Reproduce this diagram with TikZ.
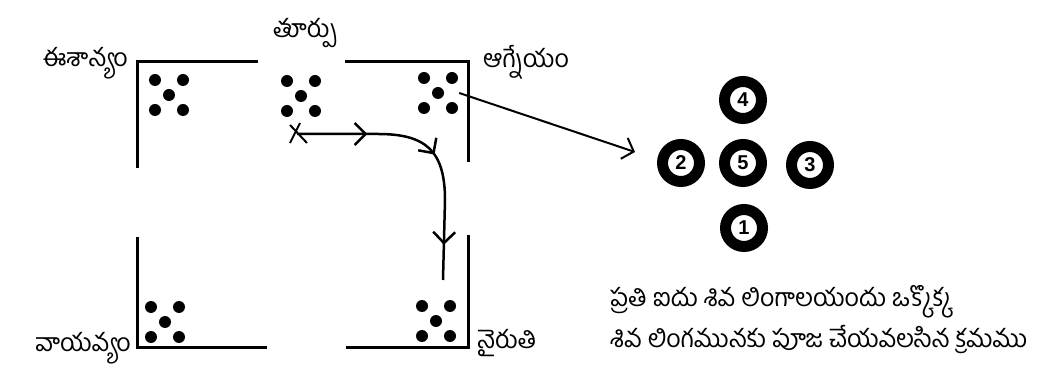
\documentclass[tikz,border=0pt]{standalone}
\usepackage{fontspec}
\setmainfont{Liberation Sans}
\newfontfamily\telugu[Script=Telugu]{Hind Guntur}
\usetikzlibrary{arrows.meta,decorations.markings,calc}
\tikzset{
  wall/.style={line width=3pt},
  spot/.style={circle, fill=black, inner sep=0pt, minimum size=12pt},
  linga/.style={circle, draw, line width=11pt, minimum size=37pt, inner sep=0pt,
    font=\bfseries\fontsize{20}{20}\selectfont},
  dir/.style={inner sep=0pt, font=\telugu\fontsize{25}{28}\selectfont},
  barb/.tip={Straight Barb[length=11pt,width=22pt]}
}
\newcommand{\fivespots}[2]{%
  \node[minimum size=42pt, inner sep=0pt] (#1) at (#2) {};
  \foreach \dx/\dy [count=\i] in {-14/-15,14/-15,0/0,-14/15,14/15}
    \node[spot] (#1\i) at ($(#1)+(\dx,\dy)$) {};
}
\begin{document}
\begin{tikzpicture}[x=1pt,y=-1pt]
  \useasboundingbox (0,0) rectangle (1045,371);
  \draw[wall] (258,62) -- (137,62) -- (137,168);
  \draw[wall] (345,62) -- (468,62) -- (468,162);
  \draw[wall] (137,237) -- (137,348) -- (267,348);
  \draw[wall] (346,348) -- (468,348) -- (468,235);

  \fivespots{nw}{169,95}
  \fivespots{n}{301,96}
  \fivespots{ne}{438,93}
  \fivespots{sw}{165,322}
  \fivespots{se}{436,321}

  \node[dir, anchor=base east] (nwname) at (128,67) {ఈశాన్యం};
  \node[dir, anchor=base] (nname) at (305,38) {తూర్పు};
  \node[dir, anchor=base west] (nename) at (483,68) {ఆగ్నేయం};
  \node[dir, anchor=base east] (swname) at (131,352) {వాయవ్యం};
  \node[dir, anchor=base west] (sename) at (477,349) {నైరుతి};

  \coordinate (start) at (297,134);
  \coordinate (stop) at (443,280);
  \draw[line width=2pt] (start) ++(-7,-9) -- ++(17,18) (start) ++(3,-11) -- ++(-10,20);
  \draw[line width=2.5pt, postaction={decorate}, decoration={markings,
      mark=at position 0.26 with {\arrow{barb}},
      mark=at position 0.53 with {\arrow{barb}},
      mark=at position 0.87 with {\arrow{barb}}}]
    (start) -- (378,134) .. controls (425,134) and (445,150) .. (445,200) -- (stop);

  \node[linga] (c4) at (743,100) {4};
  \node[linga] (c2) at (681,163) {2};
  \node[linga] (c5) at (743,163) {5};
  \node[linga] (c3) at (810,165) {3};
  \node[linga] (c1) at (744,228) {1};

  \coordinate (aim) at (635,152);
  \draw[line width=2pt, -{Straight Barb[length=10pt,width=22pt]}] (ne.east) -- (aim);

  \node[dir, anchor=base west] (line1) at (610,307) {ప్రతి ఐదు శివ లింగాలయందు ఒక్కొక్క};
  \node[dir, anchor=base west] (line2) at (610,348) {శివ లింగమునకు పూజ చేయవలసిన క్రమము};
\end{tikzpicture}
\end{document}
